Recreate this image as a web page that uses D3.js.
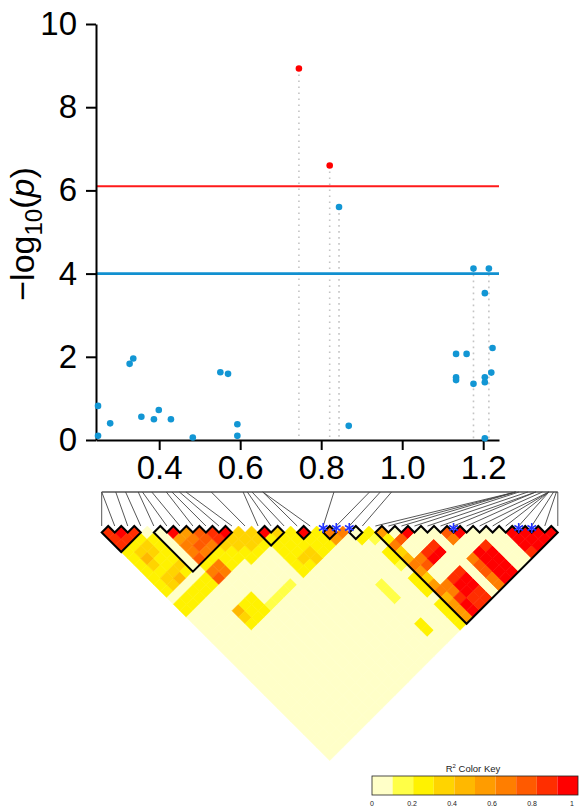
<!DOCTYPE html>
<html lang="en">
<head>
<meta charset="utf-8">
<title>Regional association and LD heatmap</title>
<script src="https://d3js.org/d3.v7.min.js"></script>
<style>
  body { margin: 0; background: #fff; }
  svg { display: block; font-family: "Liberation Sans", Arial, sans-serif; }
</style>
</head>
<body>
<div id="chart"></div>
<script>
// association results (position in Mb, -log10 p)
const snpPos  = [0.249, 0.249, 0.279, 0.327, 0.336, 0.356, 0.387, 0.399, 0.429, 0.483,
                 0.551, 0.570, 0.593, 0.593, 0.745, 0.821, 0.844, 0.868, 1.133, 1.133,
                 1.133, 1.159, 1.176, 1.176, 1.204, 1.204, 1.204, 1.204, 1.214, 1.220, 1.223];
const snpLogP = [0.82, 0.10, 0.40, 1.83, 1.96, 0.56, 0.50, 0.72, 0.50, 0.06,
                 1.63, 1.59, 0.38, 0.10, 8.93, 6.60, 5.60, 0.34, 2.07, 1.51,
                 1.44, 2.07, 1.35, 4.12, 1.51, 1.39, 0.04, 3.53, 4.12, 1.62, 2.21];
const yTicks = [0, 2, 4, 6, 8, 10];
const xTicks = [0.4, 0.6, 0.8, 1.0, 1.2];
const sigLine = 6.1, suggestLine = 4.0;

// SNPs in the LD heatmap (map position in Mb)
const mapPos = [0.249, 0.249, 0.279, 0.300, 0.327, 0.336, 0.356, 0.387, 0.399, 0.415,
                0.429, 0.483, 0.551, 0.560, 0.570, 0.593, 0.593, 0.745, 0.821, 0.844,
                0.868, 1.133, 1.133, 1.133, 1.140, 1.159, 1.176, 1.176, 1.190, 1.204,
                1.204, 1.204, 1.204, 1.214, 1.220, 1.223];
// r2 bins (0-9) for SNP i against SNP i+1 .. 36, one row per SNP
const ldRows = [
  "88822222220220000000000000000000000",
  "9823432330220000000000000000000000",
  "823322340220000000000000000000000",
  "02222320220000000000000000000000",
  "0000000220004320000000000000000",
  "956672670002220000000000000000",
  "56762660002220000000000000000",
  "7762220000010000000000000000",
  "883220000010000000000000000",
  "93322000010000000000000000",
  "3332000010000000000000000",
  "332000000000000000000000",
  "92222220000000000000000",
  "3222320000000000000000",
  "222330000000000000000",
  "92220000000000000000",
  "2220000000000000000",
  "650000001110002200",
  "60000000000000000",
  "0200000000000000",
  "210221022202222",
  "52634653564555",
  "0700670066899",
  "900890089988",
  "00890089988",
  "0000000000",
  "760067766",
  "90099999",
  "0089999",
  "000000",
  "00000",
  "9998",
  "999",
  "99",
  "9"
];
const blocks = [[1, 4], [5, 11], [13, 15], [16, 17], [18, 19], [20, 21], [22, 36]];
const starSnps = [18, 19, 20, 28, 33, 34];
const keyColors = ["#FFFFC8", "#FFFF47", "#FFF200", "#FFD400", "#FFB800", "#FF9C00",
                   "#FF7E00", "#FF5A00", "#FF2E00", "#FF0000"];
const keyTicks = [0, 0.2, 0.4, 0.6, 0.8, 1];

const width = 579, height = 812;
const svg = d3.select("#chart").append("svg")
    .attr("width", width).attr("height", height);

// ---------- association panel ----------
const x = d3.scaleLinear().domain([0.244, 1.239]).range([96, 499]);
const y = d3.scaleLinear().domain([0, 10]).range([440, 24]);

const hits = snpPos.map((p, i) => ({p, v: snpLogP[i]})).filter(d => d.v > suggestLine);

svg.append("g").selectAll("line")
  .data(hits)
  .join("line")
    .attr("x1", d => x(d.p)).attr("x2", d => x(d.p))
    .attr("y1", d => y(d.v)).attr("y2", y(0))
    .attr("stroke", "#c4c4c4")
    .attr("stroke-width", 1.6)
    .attr("stroke-dasharray", "1.6 4.4");

svg.append("line")
    .attr("x1", x.range()[0]).attr("x2", x.range()[1])
    .attr("y1", y(sigLine)).attr("y2", y(sigLine))
    .attr("stroke", "#ff1a1a").attr("stroke-width", 2.2);
svg.append("line")
    .attr("x1", x.range()[0]).attr("x2", x.range()[1])
    .attr("y1", y(suggestLine)).attr("y2", y(suggestLine))
    .attr("stroke", "#1190d0").attr("stroke-width", 2.6);

const xAxis = svg.append("g")
    .attr("transform", `translate(0,${y(0)})`)
    .call(d3.axisBottom(x).tickValues(xTicks).tickSize(10).tickSizeOuter(0)
      .tickPadding(6).tickFormat(d3.format(".1f")));
const yAxis = svg.append("g")
    .attr("transform", `translate(${x.range()[0]},0)`)
    .call(d3.axisLeft(y).tickValues(yTicks).tickSize(10).tickSizeOuter(0).tickPadding(9));

[xAxis, yAxis].forEach(g => {
  g.selectAll("path, line").attr("stroke", "#000").attr("stroke-width", 2);
  g.selectAll("text").attr("font-size", 33).attr("fill", "#000")
    .attr("font-family", "Liberation Sans, Arial, sans-serif");
});

svg.append("g").selectAll("circle")
  .data(snpPos.map((p, i) => ({p, v: snpLogP[i]})))
  .join("circle")
    .attr("cx", d => x(d.p))
    .attr("cy", d => y(d.v))
    .attr("r", 3.3)
    .attr("fill", d => d.v > sigLine ? "#ff0000" : "#1296d4");

const ylab = svg.append("text")
    .attr("transform", "translate(34,234) rotate(-90)")
    .attr("text-anchor", "middle")
    .attr("font-size", 34);
ylab.append("tspan").text("\u2212log");
ylab.append("tspan").attr("font-size", 24).attr("dy", 8).text("10");
ylab.append("tspan").attr("dy", -8).text("(");
ylab.append("tspan").attr("font-style", "italic").text("p");
ylab.append("tspan").text(")");

// ---------- LD heatmap ----------
const nSnp = mapPos.length;
const topY = 526, mapY = 492;
const idx = d3.scaleLinear().domain([1, nSnp]).range([101.7, 557.8]);
const dw = idx(2) - idx(1);
const mx = d3.scaleLinear().domain(d3.extent(mapPos)).range(idx.range());

const cells = [];
ldRows.forEach((row, r) => {
  const i = r + 1;
  row.split("").forEach((c, k) => cells.push({i, j: i + 1 + k, bin: +c}));
});

svg.append("g").selectAll("path")
  .data(cells)
  .join("path")
    .attr("d", d => {
      const cx = (idx(d.i) + idx(d.j)) / 2, cy = topY + (d.j - d.i) * dw / 2, h = dw / 2;
      return `M${cx},${cy - h}L${cx + h},${cy}L${cx},${cy + h}L${cx - h},${cy}Z`;
    })
    .attr("fill", d => keyColors[d.bin])
    .attr("stroke", d => keyColors[d.bin])
    .attr("stroke-width", 0.6);

svg.append("g").selectAll("path")
  .data(blocks)
  .join("path")
    .attr("d", ([a, b]) => {
      let s = `M${idx(a)},${topY + dw / 2}`;
      for (let k = a; k < b; k++) s += `L${idx(k) + dw / 2},${topY}L${idx(k + 1)},${topY + dw / 2}`;
      s += `L${(idx(a) + idx(b)) / 2},${topY + (b - a) * dw / 2 + dw / 2}Z`;
      return s;
    })
    .attr("fill", "none")
    .attr("stroke", "#000")
    .attr("stroke-width", 2)
    .attr("stroke-linejoin", "miter");

// genetic map
svg.append("line")
    .attr("x1", mx.range()[0]).attr("x2", mx.range()[1])
    .attr("y1", mapY).attr("y2", mapY)
    .attr("stroke", "#555").attr("stroke-width", 1.6);
svg.append("g").selectAll("line")
  .data(mapPos)
  .join("line")
    .attr("x1", d => mx(d)).attr("y1", mapY)
    .attr("x2", (d, i) => idx(i + 1)).attr("y2", topY)
    .attr("stroke", "#444").attr("stroke-width", 0.9);

// highlighted SNPs
const star = svg.append("g").selectAll("g")
  .data(starSnps)
  .join("g")
    .attr("transform", d => `translate(${idx(d)},${topY + 2})`);
[0, 60, 120].forEach(a => {
  star.append("line")
      .attr("x1", 0).attr("y1", -5).attr("x2", 0).attr("y2", 5)
      .attr("transform", `rotate(${a})`)
      .attr("stroke", "#2233ff").attr("stroke-width", 1.6);
});

// colour key
const kx = d3.scaleLinear().domain([0, 1]).range([372, 578]);
const kLab = d3.scaleLinear().domain([0, 1]).range([372, 572]);
svg.append("g").selectAll("rect")
  .data(keyColors)
  .join("rect")
    .attr("x", (d, i) => kx(i / 10)).attr("y", 776)
    .attr("width", kx(0.1) - kx(0)).attr("height", 19)
    .attr("fill", d => d);
svg.append("rect")
    .attr("x", kx(0)).attr("y", 776)
    .attr("width", kx(1) - kx(0)).attr("height", 19)
    .attr("fill", "none").attr("stroke", "#222").attr("stroke-width", 0.8);
const kt = svg.append("text")
    .attr("x", 473).attr("y", 772)
    .attr("text-anchor", "middle").attr("font-size", 9.5).attr("fill", "#222");
kt.append("tspan").text("R");
kt.append("tspan").attr("font-size", 6).attr("dy", -4).text("2");
kt.append("tspan").attr("dy", 4).text(" Color Key");
svg.append("g").selectAll("text")
  .data(keyTicks)
  .join("text")
    .attr("x", d => kLab(d)).attr("y", 806)
    .attr("text-anchor", "middle").attr("font-size", 7).attr("fill", "#222")
    .text(d => d === 0 || d === 1 ? d : d.toFixed(1));
</script>
</body>
</html>
